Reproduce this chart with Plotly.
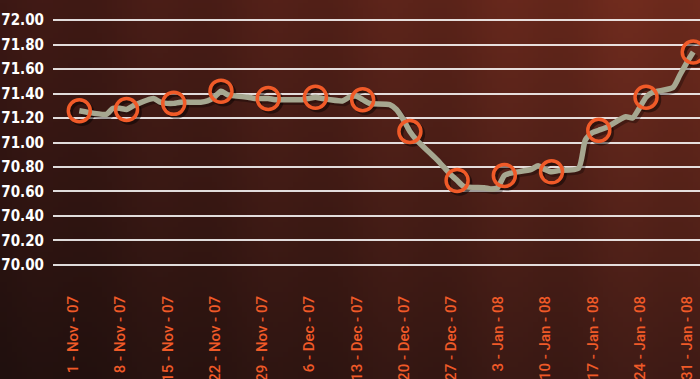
import base64
import struct
import zlib

import numpy as np
import pandas as pd
import plotly.graph_objects as go

# Daily closing rate (trading days), Nov 2007 - Jan 2008
trade_dates = [
    "2007-11-01", "2007-11-02", "2007-11-05", "2007-11-06", "2007-11-07", "2007-11-08",
    "2007-11-09", "2007-11-12", "2007-11-13", "2007-11-14", "2007-11-15", "2007-11-16",
    "2007-11-19", "2007-11-20", "2007-11-21", "2007-11-22", "2007-11-23", "2007-11-26",
    "2007-11-27", "2007-11-28", "2007-11-29", "2007-11-30",
    "2007-12-03", "2007-12-04", "2007-12-05", "2007-12-06", "2007-12-07", "2007-12-10",
    "2007-12-11", "2007-12-12", "2007-12-13", "2007-12-14", "2007-12-17", "2007-12-18",
    "2007-12-19", "2007-12-20", "2007-12-21", "2007-12-24", "2007-12-25", "2007-12-26",
    "2007-12-27", "2007-12-28", "2007-12-31",
    "2008-01-01", "2008-01-02", "2008-01-03", "2008-01-04", "2008-01-07", "2008-01-08",
    "2008-01-09", "2008-01-10", "2008-01-11", "2008-01-14", "2008-01-15", "2008-01-16",
    "2008-01-17", "2008-01-18", "2008-01-21", "2008-01-22", "2008-01-23", "2008-01-24",
    "2008-01-25", "2008-01-28", "2008-01-29", "2008-01-30", "2008-01-31",
]
rates = [
    71.26, 71.25, 71.23, 71.28, 71.28, 71.27,
    71.30, 71.36, 71.33, 71.32, 71.32, 71.33,
    71.33, 71.34, 71.37, 71.42, 71.39, 71.37,
    71.36, 71.36, 71.36, 71.35,
    71.35, 71.35, 71.36, 71.37, 71.36, 71.34,
    71.37, 71.38, 71.35, 71.32, 71.31, 71.27,
    71.19, 71.09, 71.02, 70.86, 70.80, 70.74,
    70.69, 70.64, 70.63,
    70.62, 70.63, 70.73, 70.75, 70.78, 70.81,
    70.78, 70.76, 70.77, 70.79, 71.02, 71.08,
    71.10, 71.12, 71.21, 71.20, 71.28, 71.37,
    71.41, 71.45, 71.55, 71.65, 71.74,
]

# Weekly checkpoints shown on the axis
week_dates = [
    "2007-11-01", "2007-11-08", "2007-11-15", "2007-11-22", "2007-11-29",
    "2007-12-06", "2007-12-13", "2007-12-20", "2007-12-27",
    "2008-01-03", "2008-01-10", "2008-01-17", "2008-01-24", "2008-01-31",
]
week_labels = [
    "1 - Nov - 07", "8 - Nov - 07", "15 - Nov - 07", "22 - Nov - 07", "29 - Nov - 07",
    "6 - Dec - 07", "13 - Dec - 07", "20 - Dec - 07", "27 - Dec - 07",
    "3 - Jan - 08", "10 - Jan - 08", "17 - Jan - 08", "24 - Jan - 08", "31 - Jan - 08",
]
rate_by_date = dict(zip(trade_dates, rates))
week_rates = [rate_by_date[d] for d in week_dates]

y_ticks = [70.0, 70.2, 70.4, 70.6, 70.8, 71.0, 71.2, 71.4, 71.6, 71.8, 72.0]

# ---- layout geometry ----
W, H = 700, 379
M_L, M_R, M_T, M_B = 53, 0, 19, 113
plot_w = W - M_L - M_R
plot_h = H - M_T - M_B

x0 = pd.Timestamp("2007-11-01") - pd.Timedelta(days=3.9)
x1 = pd.Timestamp("2008-01-31") + pd.Timedelta(days=1.0)
y0, y1 = 69.99, 72.01

px_per_day = plot_w / ((x1 - x0) / pd.Timedelta(days=1))
px_per_unit = plot_h / (y1 - y0)

# drop shadow offset (pixels, right / down)
SH_DX, SH_DY = 2.5, 2.5
sx0 = x0 - pd.Timedelta(days=SH_DX / px_per_day)
sx1 = x1 - pd.Timedelta(days=SH_DX / px_per_day)
sy0 = y0 + SH_DY / px_per_unit
sy1 = y1 + SH_DY / px_per_unit

LINE_COLOR = "#a6a790"
RING_COLOR = "#f05a28"
SHADOW = "rgba(0,0,0,0.45)"

NARROW_BOLD = "'DejaVu Sans Condensed', 'Liberation Sans Narrow', sans-serif"


# ---- background gradient as an embedded PNG ----
def png_data_uri(arr):
    h, w, _ = arr.shape
    raw = b"".join(b"\x00" + arr[i].tobytes() for i in range(h))

    def chunk(tag, data):
        return (struct.pack(">I", len(data)) + tag + data
                + struct.pack(">I", zlib.crc32(tag + data) & 0xFFFFFFFF))

    png = (b"\x89PNG\r\n\x1a\n"
           + chunk(b"IHDR", struct.pack(">IIBBBBB", w, h, 8, 2, 0, 0, 0))
           + chunk(b"IDAT", zlib.compress(raw, 9))
           + chunk(b"IEND", b""))
    return "data:image/png;base64," + base64.b64encode(png).decode()


gw, gh = 140, 76
u = np.linspace(0, 1, gw)[None, :, None]
v = np.linspace(0, 1, gh)[:, None, None]
c_tl = np.array([60, 24, 20], float)
c_tr = np.array([114, 44, 30], float)
c_bl = np.array([32, 16, 14], float)
c_br = np.array([66, 28, 22], float)
top = c_tl * (1 - u) + c_tr * u
bot = c_bl * (1 - u) + c_br * u
grad = top * (1 - v) + bot * v
# faint vertical streaks
streak = 1 + 0.04 * np.sin(np.linspace(0, 37, gw))[None, :, None]
grad = np.clip(grad * streak, 0, 255).astype(np.uint8)
bg_uri = png_data_uri(grad)

fig = go.Figure()

# shadows on the primary axes (offset ranges)
fig.add_trace(go.Scatter(
    x=trade_dates, y=rates, mode="lines",
    line=dict(color="rgba(0,0,0,0.3)", width=5.5, shape="spline", smoothing=0.6),
    hoverinfo="skip", showlegend=False, xaxis="x", yaxis="y",
))
fig.add_trace(go.Scatter(
    x=week_dates, y=week_rates, mode="markers",
    marker=dict(symbol="circle", size=22, color="rgba(0,0,0,0)",
                line=dict(color=SHADOW, width=3.5)),
    hoverinfo="skip", showlegend=False, xaxis="x", yaxis="y",
))

# main series on the overlay axes
fig.add_trace(go.Scatter(
    x=trade_dates, y=rates, mode="lines",
    line=dict(color=LINE_COLOR, width=5.5, shape="spline", smoothing=0.6),
    showlegend=False, xaxis="x2", yaxis="y2",
))
fig.add_trace(go.Scatter(
    x=week_dates, y=week_rates, mode="markers",
    marker=dict(symbol="circle", size=22, color="rgba(0,0,0,0)",
                line=dict(color=RING_COLOR, width=3.5)),
    showlegend=False, xaxis="x2", yaxis="y2",
))

fig.update_layout(
    width=W, height=H,
    margin=dict(l=M_L, r=M_R, t=M_T, b=M_B, autoexpand=False),
    paper_bgcolor="#3a1814",
    plot_bgcolor="rgba(0,0,0,0)",
    images=[dict(
        source=bg_uri, xref="paper", yref="paper",
        x=-M_L / plot_w, y=1 + M_T / plot_h,
        sizex=W / plot_w, sizey=H / plot_h,
        sizing="stretch", xanchor="left", yanchor="top", layer="below",
    )],
    xaxis=dict(
        type="date", range=[sx0, sx1], visible=False, fixedrange=True,
    ),
    yaxis=dict(
        range=[sy0, sy1], visible=False, fixedrange=True,
    ),
    xaxis2=dict(
        type="date", range=[x0, x1], overlaying="x", side="bottom",
        showgrid=False, zeroline=False, showline=False,
        tickmode="array", tickvals=week_dates, ticktext=week_labels,
        tickangle=-90, ticks="", ticklabelstandoff=26, ticklabelshift=-6,
        tickfont=dict(family="Roboto, 'Open Sans', sans-serif", size=15,
                      color=RING_COLOR, weight=500),
        automargin=False,
    ),
    yaxis2=dict(
        range=[y0, y1], overlaying="y", side="left",
        tickmode="array", tickvals=y_ticks,
        ticktext=[f"{t:.2f}" for t in y_ticks],
        showgrid=True, gridcolor="rgba(255,255,255,0.85)", gridwidth=1.5,
        zeroline=False, showline=False, ticks="", ticklabelstandoff=8,
        tickfont=dict(family=NARROW_BOLD, size=15, color="white", weight="bold"),
        automargin=False,
    ),
    hovermode=False,
)

fig.write_html("out.html")
